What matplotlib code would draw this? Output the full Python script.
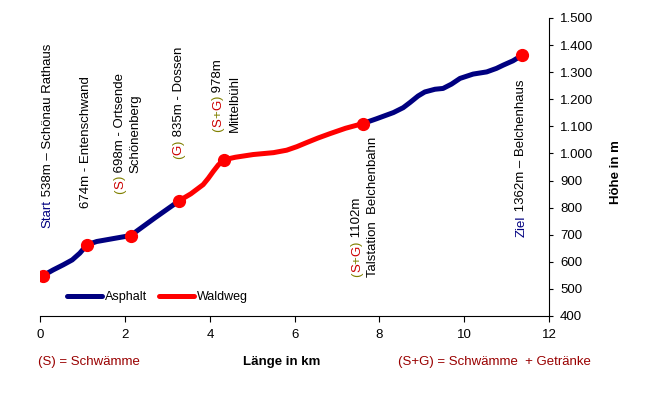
import matplotlib
matplotlib.use("Agg")
import matplotlib.pyplot as plt
from matplotlib.ticker import FuncFormatter
from matplotlib.transforms import offset_copy

plt.rcParams['font.family'] = ['Liberation Sans', 'DejaVu Sans']

NAVY = '#000080'
RED = '#ff0000'
DRED = '#cc0000'
OLIVE = '#808000'
FS = 9.5

# route profile (km, m)
asphalt1_km = [0.05, 0.30, 0.54, 0.75, 0.93, 1.10, 1.33, 1.80, 2.13, 2.70, 3.28]
asphalt1_m = [548, 570, 589, 607, 632, 663, 675, 688, 697, 762, 826]
waldweg_km = [3.28, 3.55, 3.84, 3.96, 4.08, 4.20, 4.34, 4.60, 5.02, 5.50, 5.81,
              6.05, 6.28, 6.55, 6.83, 7.20, 7.60]
waldweg_m = [826, 851, 885, 908, 934, 958, 977, 986, 996, 1003, 1012,
             1025, 1040, 1057, 1073, 1093, 1110]
asphalt2_km = [7.60, 7.93, 8.33, 8.56, 8.72, 8.91, 9.07, 9.31, 9.50, 9.70, 9.90,
               10.21, 10.53, 10.76, 10.92, 11.15, 11.37]
asphalt2_m = [1110, 1128, 1151, 1169, 1188, 1212, 1227, 1237, 1240, 1256, 1277,
              1293, 1301, 1314, 1326, 1342, 1363]

# stations
stop_km = [0.05, 1.10, 2.13, 3.28, 4.34, 7.60, 11.37]
stop_m = [548, 663, 697, 826, 977, 1110, 1363]

fig = plt.figure(figsize=(6.5, 3.94), dpi=100)
ax = fig.add_axes([40.4 / 650, 78 / 394, (549 - 40.4) / 650, 298 / 394])

style = dict(lw=3.6, solid_capstyle='round', solid_joinstyle='round', zorder=3)
ax.plot(asphalt1_km, asphalt1_m, color=NAVY, label='Asphalt', **style)
ax.plot(waldweg_km, waldweg_m, color=RED, label='Waldweg', **style)
ax.plot(asphalt2_km, asphalt2_m, color=NAVY, **style)
ax.plot(stop_km, stop_m, 'o', color=RED, ms=8.5, zorder=4)

ax.set_xlim(0, 12)
ax.set_ylim(400, 1500)
ax.set_xticks(range(0, 13, 2))
ax.set_yticks(range(400, 1501, 100))
ax.yaxis.set_major_formatter(FuncFormatter(lambda v, _: f"{int(v):,}".replace(',', '.')))
ax.yaxis.tick_right()
for s in ['left', 'top']:
    ax.spines[s].set_visible(False)
ax.tick_params(axis='x', direction='out', length=4, pad=5, labelsize=FS)
ax.tick_params(axis='y', direction='out', length=3, pad=5, labelsize=FS)

leg = ax.legend(loc='center left', bbox_to_anchor=(67 / 650, 1 - 297 / 394),
                bbox_transform=fig.transFigure, ncol=2, frameon=False,
                fontsize=9, handlelength=2.8, handletextpad=0.2,
                columnspacing=1.0, borderpad=0, borderaxespad=0)

fig.canvas.draw()
r = fig.canvas.get_renderer()


def vlabel(x, y, parts, align='bottom', dx=2):
    # rotated label built from coloured pieces, stacked bottom to top
    pieces = []
    for s, c in parts:
        t = ax.text(x, y, s, rotation=90, fontsize=FS, color=c,
                    ha='center', va='bottom')
        pieces.append(t)
    lens = [t.get_window_extent(r).height for t in pieces]
    total = sum(lens)
    off = 0 if align == 'bottom' else -total / 2
    for t, L in zip(pieces, lens):
        t.set_transform(offset_copy(ax.transData, fig=fig, x=dx, y=off, units='dots'))
        off += L


vlabel(0.125, 726, [('Start', NAVY), (' 538m – Schönau Rathaus', 'black')])
vlabel(1.03, 800, [('674m - Entenschwand', 'black')])
vlabel(1.83, 1074, [('(', OLIVE), ('S', DRED), (')', OLIVE), (' 698m - Ortsende', 'black')],
       align='center')
vlabel(2.20, 1074, [('Schönenberg', 'black')], align='center')
vlabel(3.22, 978, [('(', OLIVE), ('G', DRED), (')', OLIVE), (' 835m - Dossen', 'black')])
vlabel(4.15, 1081, [('(', OLIVE), ('S', DRED), ('+', OLIVE), ('G', DRED), (')', OLIVE),
                    (' 978m', 'black')])
vlabel(4.53, 1081, [('Mittelbühl', 'black')])
vlabel(7.43, 544, [('(', OLIVE), ('S', DRED), ('+', OLIVE), ('G', DRED), (')', OLIVE),
                   (' 1102m', 'black')])
vlabel(7.80, 544, [('Talstation  Belchenbahn', 'black')])
vlabel(11.30, 693, [('Ziel', NAVY), (' 1362m – Belchenhaus', 'black')])

fig.text(616 / 650, 1 - 172 / 394, 'Höhe in m', rotation=90, fontsize=FS,
         fontweight='bold', ha='center', va='center')
fig.text(282 / 650, 1 - 362 / 394, 'Länge in km', fontsize=FS,
         fontweight='bold', ha='center', va='center')
fig.text(38 / 650, 1 - 362 / 394, '(S) = Schwämme', fontsize=FS,
         color='#990000', ha='left', va='center')
fig.text(398 / 650, 1 - 362 / 394, '(S+G) = Schwämme  + Getränke', fontsize=FS,
         color='#990000', ha='left', va='center')

fig.savefig('out.png', dpi=100)
